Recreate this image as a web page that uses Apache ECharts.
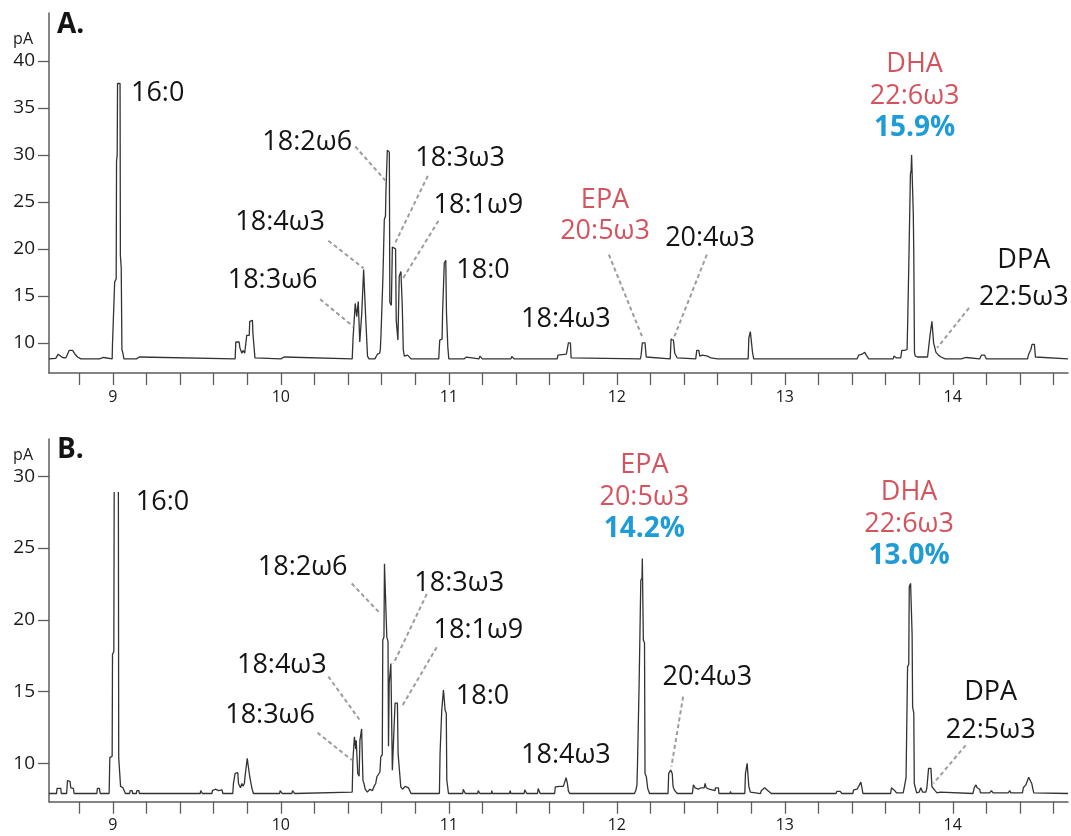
<!DOCTYPE html>
<html><head><meta charset="utf-8">
<script src="https://cdn.jsdelivr.net/npm/echarts@6/dist/echarts.min.js"></script>
<style>html,body{margin:0;padding:0;background:#fff}#c{width:1071px;height:836px}</style>
</head><body><div id="c"></div>
<script>
// ---- axis ticks / labels ----
const xTickValues = [8.8,9.0,9.2,9.4,9.6,9.8,10.0,10.2,10.4,10.6,10.8,11.0,11.2,11.4,11.6,11.8,12.0,12.2,12.4,12.6,12.8,13.0,13.2,13.4,13.6,13.8,14.0,14.2,14.4,14.6];
const xLabelValues = [9,10,11,12,13,14];
const yTicksA = [10,15,20,25,30,35,40];
const yTicksB = [10,15,20,25,30];

// ---- panel A trace: [retention time (min), signal (pA)] ----
const traceA = [
[8.62,8.3],[8.66,8.35],[8.675,8.8],[8.685,8.6],[8.70,8.45],[8.72,8.4],[8.74,9.2],[8.76,9.2],[8.775,8.8],[8.79,8.5],[8.81,8.3],
[8.92,8.3],[8.93,8.5],[8.945,8.45],[8.955,8.3],
[8.996,8.3],[8.998,9.9],[9.009,9.9],[9.011,16.5],[9.020,16.8],[9.022,29.3],[9.026,30.0],[9.028,37.6],[9.043,37.6],[9.045,19.3],[9.05,18.0],[9.054,9.3],[9.06,8.9],[9.066,8.3],
[9.14,8.3],[9.145,8.5],[9.158,8.5],[9.162,8.3],
[9.728,8.3],[9.732,10.1],[9.752,10.1],[9.756,9.5],[9.765,9.5],[9.768,8.9],[9.775,9.2],[9.785,8.9],[9.792,8.9],[9.797,10.8],[9.812,10.8],[9.815,12.3],[9.818,12.4],[9.831,12.4],[9.834,11.0],[9.843,10.8],[9.846,8.4],[9.855,8.3],
[10.0,8.3],[10.005,8.5],[10.02,8.5],[10.025,8.3],
[10.425,8.3],[10.43,10.5],[10.438,10.6],[10.443,14.2],[10.447,14.2],[10.452,12.8],[10.458,12.8],[10.461,14.4],[10.466,14.3],[10.47,10.1],[10.478,10.1],[10.482,13.2],[10.49,13.3],[10.493,17.8],[10.502,17.8],[10.506,12.4],[10.512,12.2],[10.516,8.6],[10.525,8.3],
[10.56,8.3],[10.575,8.8],[10.58,8.6],[10.588,8.9],
[10.592,9.2],[10.596,10.7],[10.605,10.8],[10.608,17.1],[10.613,17.3],[10.616,23.1],[10.623,23.5],[10.626,26.3],[10.632,26.5],[10.634,30.5],[10.646,30.3],[10.649,14.3],[10.658,14.0],
[10.664,20.2],[10.683,20.0],[10.687,12.4],[10.694,12.2],[10.697,10.3],[10.702,10.3],[10.705,17.1],[10.712,17.3],[10.715,17.6],[10.72,17.5],[10.723,13.9],[10.726,13.8],[10.729,9.3],[10.735,8.6],[10.745,8.5],[10.755,8.7],[10.765,8.5],[10.775,8.3],
[10.94,8.3],[10.946,10.3],[10.96,10.4],[10.963,13.2],[10.97,13.3],[10.973,18.5],[10.982,18.8],[10.986,13.3],[10.991,13.2],[10.994,9.6],[11.0,8.3],
[11.09,8.3],[11.095,8.5],[11.105,8.5],[11.11,8.3],[11.18,8.3],[11.185,8.6],[11.195,8.55],[11.2,8.3],[11.37,8.3],[11.375,8.55],[11.385,8.5],[11.39,8.3],
[11.645,8.3],[11.65,8.7],[11.70,8.8],[11.712,10.0],[11.724,10.0],[11.728,8.4],[11.735,8.3],
[12.14,8.3],[12.145,8.7],[12.152,10.0],[12.168,10.0],[12.175,8.5],[12.18,8.3],
[12.318,8.3],[12.323,10.4],[12.337,10.3],[12.345,8.9],[12.36,8.4],[12.365,8.3],
[12.47,8.3],[12.476,9.2],[12.488,9.2],[12.494,8.6],[12.51,8.7],[12.52,8.5],[12.54,8.6],[12.56,8.4],[12.6,8.3],[12.605,8.5],[12.615,8.3],
[12.782,8.3],[12.786,10.5],[12.795,11.2],[12.805,11.0],[12.808,9.0],[12.815,8.3],
[12.915,8.3],[12.918,8.5],[12.921,8.3],
[13.43,8.3],[13.44,8.7],[13.46,8.8],[13.468,8.6],[13.476,9.0],[13.485,8.7],[13.5,8.3],
[13.645,8.3],[13.65,8.6],[13.66,8.6],[13.665,8.4],[13.69,8.4],[13.697,9.2],[13.712,9.2],
[13.728,9.3],[13.732,12.4],[13.736,12.5],[13.739,19.0],[13.745,19.2],[13.748,28.0],[13.752,28.3],[13.755,30.0],[13.762,29.8],[13.765,23.8],[13.768,19.5],[13.772,9.0],[13.777,8.6],[13.79,8.5],[13.85,8.5],
[13.86,8.5],[13.865,10.85],[13.872,11.0],[13.876,12.3],[13.882,12.1],[13.886,10.0],[13.893,9.8],[13.9,9.0],[13.915,8.7],[13.93,8.5],[13.955,8.3],
[14.05,8.3],[14.055,8.45],[14.08,8.45],[14.085,8.3],[14.16,8.3],[14.17,8.7],[14.19,8.7],[14.2,8.3],[14.365,8.3],[14.37,8.45],[14.375,8.3],
[14.445,8.3],[14.452,8.8],[14.465,9.3],[14.472,9.85],[14.486,9.85],[14.492,8.5],[14.5,8.3],[14.686,8.3]
];

// ---- panel B trace (16:0 goes off-scale: open top) ----
const traceB = [
[8.62,7.9],[8.665,7.9],[8.668,8.26],[8.69,8.26],[8.693,7.9],[8.725,7.9],[8.73,8.8],[8.745,8.75],[8.75,8.3],[8.765,8.25],[8.77,7.9],
[8.905,7.9],[8.908,8.26],[8.92,8.26],[8.925,7.9],
[8.978,7.9],[8.982,10.4],[8.996,10.5],[8.998,17.6],[9.006,17.8],[9.008,28.9],[9.02,'-'],[9.033,28.9],[9.035,10.4],[9.043,10.3],[9.046,8.4],[9.06,8.3],[9.075,7.9],
[9.1,7.9],[9.103,8.1],[9.115,8.1],[9.118,7.9],[9.14,7.9],[9.143,8.1],[9.155,8.1],[9.158,7.9],
[9.52,7.9],[9.523,8.1],[9.53,8.1],[9.533,7.9],[9.59,7.9],[9.593,8.1],[9.6,8.1],[9.61,8.2],[9.62,8.2],[9.63,8.1],[9.64,8.2],[9.65,8.15],[9.655,7.9],
[9.714,7.9],[9.718,8.6],[9.724,8.6],[9.728,9.3],[9.744,9.35],[9.748,8.6],[9.755,8.5],[9.76,8.3],[9.768,8.6],[9.775,8.4],[9.783,8.6],[9.787,9.07],[9.796,9.1],[9.8,10.35],[9.811,10.35],[9.815,9.07],[9.824,9.0],[9.828,8.26],[9.837,7.9],
[9.993,7.9],[9.996,8.1],[10.006,8.1],[10.009,7.9],[10.066,7.9],[10.07,8.1],[10.08,8.1],[10.083,7.9],
[10.425,8.0],[10.429,10.2],[10.435,10.3],[10.438,11.85],[10.443,11.8],[10.446,11.0],[10.449,11.6],[10.454,11.5],[10.458,9.3],[10.466,9.1],[10.471,11.6],[10.478,11.7],[10.481,12.4],[10.486,12.3],[10.489,8.8],[10.495,8.6],[10.502,8.2],[10.515,8.0],[10.53,8.2],[10.545,8.1],[10.555,8.4],[10.565,8.6],[10.572,9.07],
[10.59,9.4],[10.595,10.46],[10.604,10.6],[10.607,18.6],[10.614,18.8],[10.617,23.9],[10.627,24.0],[10.631,18.8],[10.638,18.5],[10.641,11.2],
[10.645,15.57],[10.652,15.6],[10.655,16.96],[10.661,16.9],[10.664,9.53],[10.675,9.5],[10.68,14.2],[10.694,14.2],[10.698,10.7],[10.708,10.6],[10.714,8.37],[10.725,8.2],[10.74,8.4],[10.75,8.5],[10.76,8.3],[10.775,7.9],
[10.944,7.9],[10.948,10.7],[10.955,10.8],[10.958,13.7],[10.965,13.8],[10.968,15.1],[10.972,14.6],[10.978,13.7],[10.985,13.5],[10.988,8.84],[10.998,7.9],
[11.083,7.9],[11.086,8.2],[11.095,8.2],[11.098,7.9],[11.172,7.9],[11.175,8.1],[11.182,8.1],[11.185,7.9],[11.254,7.9],[11.256,8.1],[11.259,7.9],[11.362,7.9],[11.365,8.1],[11.37,7.9],[11.448,7.9],[11.452,8.15],[11.46,8.15],[11.464,7.9],[11.528,7.9],[11.532,8.25],[11.54,8.2],[11.544,7.9],
[11.63,7.9],[11.634,8.37],[11.66,8.4],[11.665,8.3],[11.682,8.4],[11.69,8.5],[11.698,9.0],[11.702,9.07],[11.706,8.6],[11.712,8.07],[11.72,7.9],
[12.105,7.9],[12.114,8.14],[12.12,8.5],[12.123,9.77],[12.13,9.8],[12.133,15.57],[12.14,15.7],[12.143,22.76],[12.15,22.9],[12.152,24.28],[12.156,24.2],[12.158,18.6],[12.165,18.4],[12.168,9.3],[12.176,9.07],[12.184,8.26],[12.195,7.9],
[12.305,7.9],[12.309,9.3],[12.316,9.4],[12.321,9.53],[12.33,9.3],[12.335,8.37],[12.345,8.1],[12.36,7.9],
[12.45,7.9],[12.456,8.5],[12.466,8.3],[12.476,8.4],[12.486,8.2],[12.5,8.3],[12.52,8.3],[12.526,8.6],[12.532,8.3],[12.55,8.2],[12.585,8.1],[12.587,8.3],[12.605,8.3],[12.608,7.9],[12.675,7.9],[12.677,8.05],[12.68,7.9],
[12.762,7.9],[12.766,9.3],[12.772,9.4],[12.776,10.0],[12.782,9.9],[12.786,8.4],[12.795,8.0],[12.855,7.9],[12.86,8.1],[12.87,8.2],[12.88,8.3],[12.89,8.2],[12.9,8.1],[12.92,7.9],
[13.305,7.9],[13.31,8.05],[13.33,8.05],[13.34,7.9],[13.405,7.9],[13.41,8.15],[13.43,8.2],[13.44,8.4],[13.447,8.4],[13.453,8.7],[13.458,8.4],[13.465,7.9],
[13.63,7.9],[13.635,8.3],[13.645,8.3],[13.655,8.1],[13.665,7.95],[13.705,7.95],
[13.712,8.37],[13.718,8.4],[13.722,9.0],[13.728,9.1],[13.731,16.73],[13.738,16.9],[13.741,22.3],[13.749,22.54],[13.755,22.5],[13.758,19.0],[13.761,13.94],[13.768,13.5],[13.771,8.6],[13.785,7.95],
[13.8,8.0],[13.81,8.3],[13.82,8.0],
[13.84,8.0],[13.846,8.3],[13.852,8.4],[13.856,9.65],[13.87,9.65],[13.876,8.37],[13.885,8.3],[13.895,8.1],[13.906,7.95],[13.925,8.0],[13.93,8.1],[13.935,7.95],
[14.12,7.9],[14.128,8.3],[14.138,8.5],[14.145,8.3],[14.16,8.2],[14.165,7.95],[14.22,7.95],[14.23,8.1],[14.24,7.95],[14.33,7.95],[14.34,8.1],[14.345,7.95],
[14.415,7.95],[14.42,8.3],[14.435,8.5],[14.445,8.6],[14.452,9.03],[14.462,9.0],[14.47,8.6],[14.478,8.5],[14.482,7.95],[14.686,7.9]
];

// ---- peak annotations (anchor in data coordinates) ----
const peakLabelsA = [
  {lines:[['16:0','k']], at:[9.267,36.6]},
  {lines:[['18:2ω6','k']], at:[10.157,31.35]},
  {lines:[['18:4ω3','k']], at:[9.996,22.82]},
  {lines:[['18:3ω6','k']], at:[9.951,16.7]},
  {lines:[['18:3ω3','k']], at:[11.067,29.65]},
  {lines:[['18:1ω9','k']], at:[11.176,24.68]},
  {lines:[['18:0','k']], at:[11.204,17.77]},
  {lines:[['18:4ω3','k']], at:[11.697,12.55]},
  {lines:[['EPA','r'],['20:5ω3','r']], at:[11.93,23.51]},
  {lines:[['20:4ω3','k']], at:[12.555,21.09]},
  {lines:[['DHA','r'],['22:6ω3','r'],['15.9%','b']], at:[13.773,36.23]},
  {lines:[['DPA','k'],['22:5ω3','k2']], at:[14.423,16.77]}
];
const peakLabelsB = [
  {lines:[['16:0','k']], at:[9.296,28.2]},
  {lines:[['18:2ω6','k']], at:[10.13,23.69]},
  {lines:[['18:4ω3','k']], at:[10.006,16.85]},
  {lines:[['18:3ω6','k']], at:[9.936,13.36]},
  {lines:[['18:3ω3','k']], at:[11.062,22.53]},
  {lines:[['18:1ω9','k']], at:[11.176,19.28]},
  {lines:[['18:0','k']], at:[11.201,14.64]},
  {lines:[['18:4ω3','k']], at:[11.697,10.58]},
  {lines:[['EPA','r'],['20:5ω3','r'],['14.2%','b']], at:[12.164,28.54]},
  {lines:[['20:4ω3','k']], at:[12.539,15.97]},
  {lines:[['DHA','r'],['22:6ω3','r'],['13.0%','b']], at:[13.74,26.65]},
  {lines:[['DPA','k'],['22:5ω3','k2']], at:[14.226,13.61]}
];
const leadersA = [
  [[10.443,30.9],[10.621,27.3]], [[10.283,20.87],[10.492,17.95]], [[10.234,14.65],[10.432,11.73]],
  [[10.875,27.77],[10.674,20.39]], [[10.938,22.98],[10.724,16.77]], [[11.953,19.39],[12.154,10.53]],
  [[12.536,19.39],[12.335,10.32]], [[14.097,13.72],[13.907,9.47]]
];
const leadersB = [
  [[10.422,22.53],[10.591,20.45]], [[10.869,21.8],[10.67,16.93]], [[10.928,18.09],[10.724,14.03]],
  [[10.283,16.05],[10.476,12.92]], [[10.218,12.14],[10.423,10.23]], [[12.395,14.65],[12.325,9.77]],
  [[14.077,11.26],[13.885,8.6]]
];

// ---- styling ----
const FONT = '"Open Sans", "Noto Sans", sans-serif';
const RED = '#d4545e', BLUE = '#1f9bd6', INK = '#141414', AXIS = '#5c5c5c';
function rich(lh){
  return {
    k:{color:INK,fontSize:27,fontFamily:FONT,lineHeight:lh},
    k2:{color:INK,fontSize:27,fontFamily:FONT,lineHeight:lh},
    r:{color:RED,fontSize:27,fontFamily:FONT,lineHeight:lh},
    b:{color:BLUE,fontSize:28,fontWeight:'bold',fontFamily:FONT,lineHeight:lh}
  };
}
function markPoints(list, lhBig){
  return {
    silent:true, symbol:'rect', symbolSize:1, itemStyle:{color:'rgba(0,0,0,0)'},
    data: list.map(p => {
      const lh = (p.lines.length===2 && p.lines[1][1]==='k2') ? lhBig : 31.7;
      return {
        coord:p.at,
        label:{show:true, position:'inside', align:'center', verticalAlign:'middle',
          formatter: p.lines.map(l => '{'+l[1]+'|'+l[0]+'}').join('\n'),
          rich: rich(lh)}
      };
    })
  };
}
function markLines(list){
  return {
    silent:true, symbol:['none','none'], label:{show:false},
    lineStyle:{color:'#9c9c9c', width:2, type:[4,3]},
    data: list.map(s => [{coord:s[0]},{coord:s[1]}])
  };
}
function xAxis(grid){
  return {type:'value', gridIndex:grid, min:8.62, max:14.686,
    axisLine:{show:true,onZero:false,lineStyle:{color:AXIS,width:1.5}},
    axisTick:{show:true,customValues:xTickValues,length:12,lineStyle:{color:AXIS,width:1.3}},
    axisLabel:{customValues:xLabelValues,fontSize:16,color:'#1a1a1a',fontFamily:FONT,margin:16},
    splitLine:{show:false}};
}
function yAxis(grid, min, max, ticks, gap){
  return {type:'value', gridIndex:grid, min:min, max:max,
    axisLine:{show:true,onZero:false,lineStyle:{color:AXIS,width:1.5}},
    axisTick:{show:true,customValues:ticks,length:11,lineStyle:{color:AXIS,width:1.3}},
    axisLabel:{customValues:ticks,fontSize:19,color:'#1a1a1a',fontFamily:FONT,margin:14},
    splitLine:{show:false},
    name:'pA', nameLocation:'end', nameGap:gap,
    nameTextStyle:{fontSize:16,color:'#1a1a1a',fontFamily:FONT,align:'right',verticalAlign:'middle',padding:[0,16,0,0]}};
}

const chart = echarts.init(document.getElementById('c'));
chart.setOption({
  animation:false,
  backgroundColor:'#fff',
  title:[
    {text:'A.', left:57, top:11, padding:0, textStyle:{fontSize:28,fontWeight:'bold',color:INK,fontFamily:FONT}},
    {text:'B.', left:57, top:436, padding:0, textStyle:{fontSize:28,fontWeight:'bold',color:INK,fontFamily:FONT}}
  ],
  grid:[
    {left:49, top:13, width:1019, height:360, outerBoundsMode:'none'},
    {left:49, top:439, width:1019, height:362.7, outerBoundsMode:'none'}
  ],
  xAxis:[xAxis(0), xAxis(1)],
  yAxis:[yAxis(0,6.8,45.1,yTicksA,-26), yAxis(1,7.33,32.6,yTicksB,-16)],
  series:[
    {type:'line', xAxisIndex:0, yAxisIndex:0, data:traceA, showSymbol:false, connectNulls:false,
     lineStyle:{color:'#333',width:1.3}, silent:true,
     markPoint:markPoints(peakLabelsA,37), markLine:markLines(leadersA)},
    {type:'line', xAxisIndex:1, yAxisIndex:1, data:traceB, showSymbol:false, connectNulls:false,
     lineStyle:{color:'#333',width:1.3}, silent:true,
     markPoint:markPoints(peakLabelsB,38), markLine:markLines(leadersB)}
  ]
});
</script></body></html>
